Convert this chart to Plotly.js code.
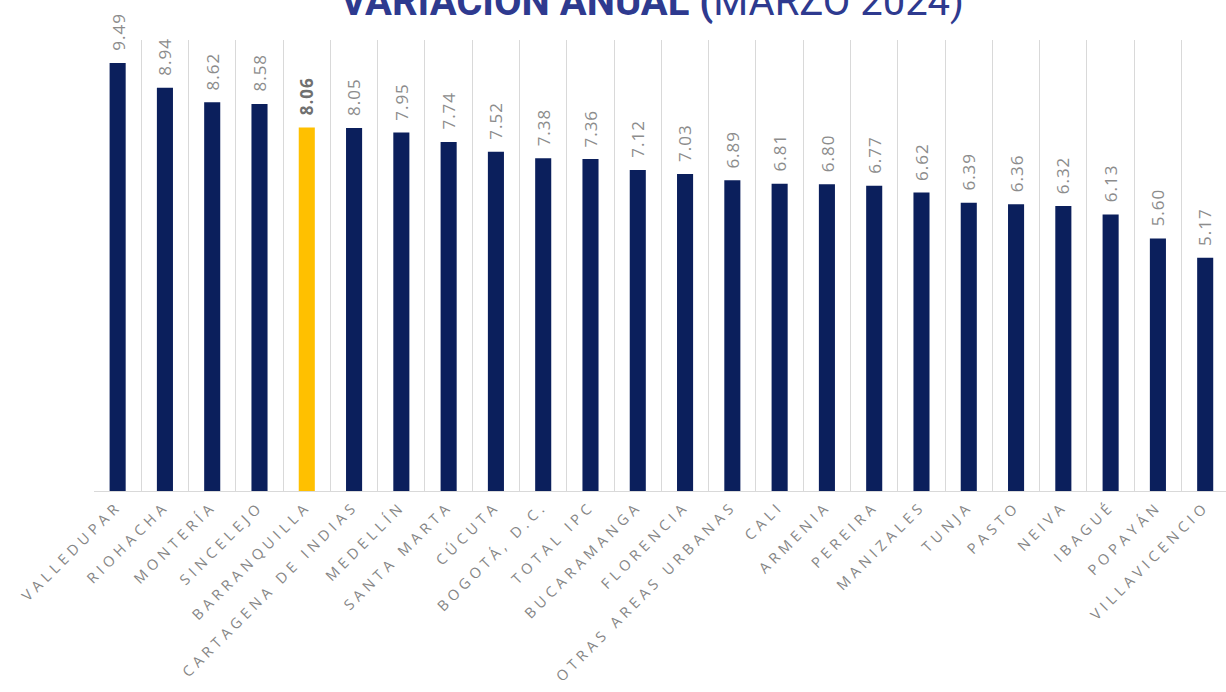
<!DOCTYPE html>
<html>
<head>
<meta charset="utf-8">
<script src="https://cdn.plot.ly/plotly-3.0.1.min.js"></script>
<style>
  html, body { margin: 0; padding: 0; background: #ffffff; overflow: hidden; }
  #chart { width: 1226px; height: 692px; }
  .xtick text { letter-spacing: 4.5px; }
  .annotation-text { letter-spacing: 1px; }
</style>
</head>
<body>
<div id="chart"></div>
<script>
const categories = ["VALLEDUPAR","RIOHACHA","MONTERÍA","SINCELEJO","BARRANQUILLA","CARTAGENA DE INDIAS","MEDELLÍN","SANTA MARTA","CÚCUTA","BOGOTÁ, D.C.","TOTAL IPC","BUCARAMANGA","FLORENCIA","OTRAS AREAS URBANAS","CALI","ARMENIA","PEREIRA","MANIZALES","TUNJA","PASTO","NEIVA","IBAGUÉ","POPAYÁN","VILLAVICENCIO"];
const values = [9.49,8.94,8.62,8.58,8.06,8.05,7.95,7.74,7.52,7.38,7.36,7.12,7.03,6.89,6.81,6.80,6.77,6.62,6.39,6.36,6.32,6.13,5.60,5.17];
const highlight = "BARRANQUILLA";
const titleBold = "VARIACIÓN ANUAL (";
const titleRest = "MARZO 2024)";

const navy = "#0b1f5c";
const gold = "#ffc000";

const colors = categories.map(c => c === highlight ? gold : navy);

const trace = {
  type: "bar",
  x: categories,
  y: values,
  marker: { color: colors },
  width: 0.34,
  hoverinfo: "skip"
};

const annotations = values.map((v, i) => {
  const hl = categories[i] === highlight;
  return {
    x: categories[i],
    y: v,
    xref: "x",
    yref: "y",
    text: hl ? "<b>" + v.toFixed(2) + "</b>" : v.toFixed(2),
    showarrow: false,
    textangle: -90,
    xanchor: "center",
    yanchor: "bottom",
    yshift: 10,
    font: { family: "Open Sans, sans-serif", size: 17, color: hl ? "#707070" : "#8c8c8c" }
  };
});

const layout = {
  width: 1226,
  height: 692,
  margin: { l: 94, r: 0, t: 40, b: 201 },
  paper_bgcolor: "#ffffff",
  plot_bgcolor: "#ffffff",
  showlegend: false,
  title: {
    text: "<b>" + titleBold + "</b>" + titleRest,
    font: { family: "Roboto, sans-serif", size: 40, color: "#2e3a8f" },
    xref: "container", x: 0.532, xanchor: "center",
    yref: "container", y: 0.998, yanchor: "middle"
  },
  xaxis: {
    type: "category",
    range: [-0.5, 23.44],
    tickangle: -45,
    tickson: "boundaries",
    showgrid: true,
    gridcolor: "#d9d9d9",
    gridwidth: 1,
    ticks: "",
    showline: true,
    linecolor: "#d9d9d9",
    linewidth: 1,
    tickfont: { family: "Open Sans, sans-serif", size: 14.5, color: "#858585" },
    automargin: false,
    fixedrange: true
  },
  yaxis: {
    range: [0, 10],
    showgrid: false,
    zeroline: false,
    showticklabels: false,
    ticks: "",
    showline: false,
    automargin: false,
    fixedrange: true
  },
  annotations: annotations,
  bargap: 0.66
};

Plotly.newPlot("chart", [trace], layout, { displayModeBar: false, staticPlot: true });
</script>
</body>
</html>
